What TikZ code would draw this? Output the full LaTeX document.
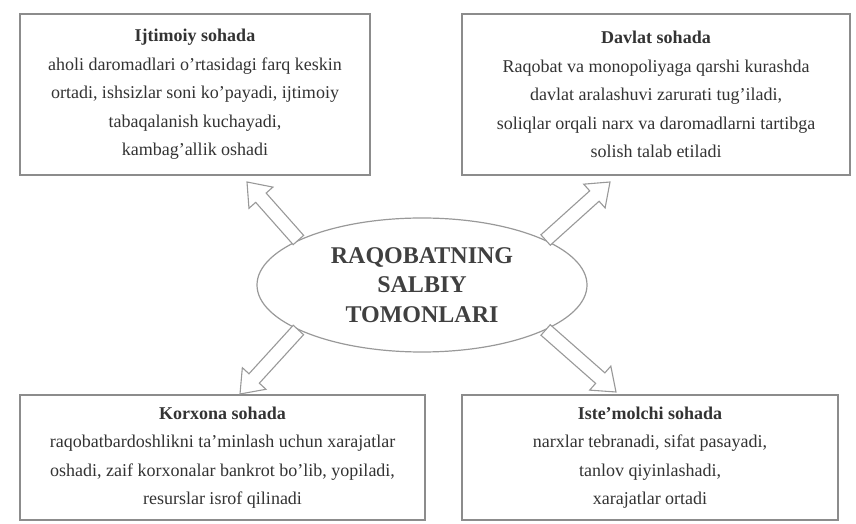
\documentclass[tikz,border=0pt]{standalone}
\usepackage{fontspec}
\setmainfont{Liberation Serif}
\usetikzlibrary{calc,shapes.geometric}

\tikzset{
  panel/.style={draw=black!45, line width=1.4pt, fill=white, align=center,
    text=black!80, font=\fontsize{18}{28.5}\selectfont, inner sep=0pt},
  hub/.style={draw=black!40, line width=1.2pt, ellipse, align=center,
    text=black!75, font=\fontsize{24}{29.5}\selectfont\bfseries, inner sep=0pt},
  hollowarrow/.style={draw=black!40, line width=1.1pt, fill=white, line join=miter}
}

% hollow block arrow from #1 (tail) to #2 (tip)
\newcommand{\blockarrow}[2]{%
  \coordinate (hb) at ($(#2)!21pt!(#1)$);
  \draw[hollowarrow]
    ($(#1)!7pt!90:(#2)$) -- ($(hb)!7pt!-90:(#1)$) -- ($(hb)!16pt!-90:(#1)$)
    -- (#2) -- ($(hb)!16pt!90:(#1)$) -- ($(hb)!7pt!90:(#1)$)
    -- ($(#1)!7pt!-90:(#2)$) -- cycle;
}

\begin{document}
\begin{tikzpicture}[x=1pt,y=1pt]
\useasboundingbox (0,0) rectangle (856,524);

% the four spheres
\node[panel, minimum width=350pt, minimum height=161pt] (tl) at (195,429.5)
  {\textbf{Ijtimoiy sohada}\\
   aholi daromadlari o'rtasidagi farq keskin\\
   ortadi, ishsizlar soni ko'payadi, ijtimoiy\\
   tabaqalanish kuchayadi,\\
   kambag'allik oshadi};
\node[panel, minimum width=388pt, minimum height=161pt] (tr) at (656,429.5)
  {\textbf{Davlat sohada}\\
   Raqobat va monopoliyaga qarshi kurashda\\
   davlat aralashuvi zarurati tug'iladi,\\
   soliqlar orqali narx va daromadlarni tartibga\\
   solish talab etiladi};
\node[panel, minimum width=405pt, minimum height=125pt] (bl) at (222.5,66.5)
  {\textbf{Korxona sohada}\\
   raqobatbardoshlikni ta'minlash uchun xarajatlar\\
   oshadi, zaif korxonalar bankrot bo'lib, yopiladi,\\
   resurslar isrof qilinadi};
\node[panel, minimum width=376pt, minimum height=125pt] (br) at (650,66.5)
  {\textbf{Iste'molchi sohada}\\
   narxlar tebranadi, sifat pasayadi,\\
   tanlov qiyinlashadi,\\
   xarajatlar ortadi};

% central topic
\node[hub, minimum width=330pt, minimum height=134pt] (c) at (422,239)
  {RAQOBATNING\\SALBIY\\TOMONLARI};

% arrow tips just short of the boxes
\coordinate (tlh) at (247,342);
\coordinate (trh) at (610,342);
\coordinate (blh) at (240,130);
\coordinate (brh) at (616,132);

\blockarrow{c.160}{tlh}
\blockarrow{c.20}{trh}
\blockarrow{c.200}{blh}
\blockarrow{c.-20}{brh}
\end{tikzpicture}
\end{document}
